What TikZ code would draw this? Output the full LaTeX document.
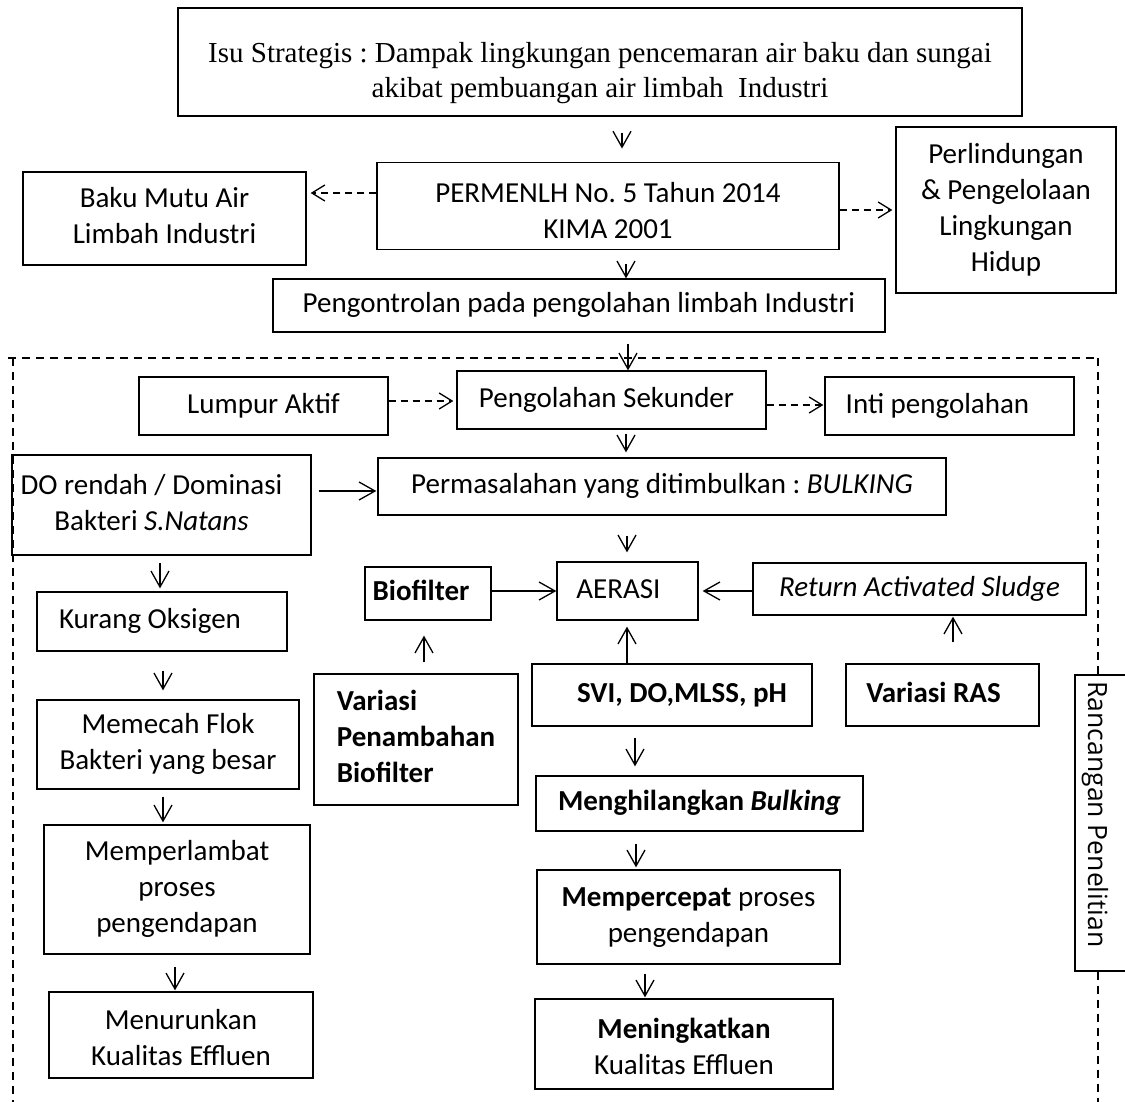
\documentclass[tikz,border=0pt]{standalone}
\usepackage{fontspec}
\setmainfont{Carlito}
\newfontfamily\tnrfont{Liberation Serif}
\newfontfamily\osfont{Open Sans}
\usepackage{graphicx}
\usetikzlibrary{arrows.meta}
\frenchspacing
\newcommand{\hgap}[1]{\rule{#1}{0pt}}
\newcommand{\cfont}{\fontsize{29}{36}\selectfont}
\newcommand{\bnode}[6][]{\node[bx,minimum width={#4-#2},minimum height={#5-#3},#1] (#6) at ({(#2+#4)/2},{(#3+#5)/2})}
\begin{document}
\begin{tikzpicture}[x=1pt,y=-1pt,
  bx/.style={draw, line width=1.3pt, inner sep=0pt, align=center, font=\cfont},
  arr/.style={line width=1.3pt, -{Straight Barb[length=16pt,width=18pt]}},
  darr/.style={line width=1.3pt, dash pattern=on 7pt off 5pt, -{Straight Barb[length=13pt,width=16pt]}},
  frame/.style={line width=1.3pt, dash pattern=on 8pt off 6pt}]
\useasboundingbox (0,0) rectangle (1125,1102);

% boxes
\bnode[font=\tnrfont\fontsize{29}{35}\selectfont]{178}{8}{1022}{116}{top} {\rule{0pt}{47pt}Isu Strategis : Dampak lingkungan pencemaran air baku dan sungai\\\strut akibat pembuangan air limbah\ \ Industri};
\bnode{377}{164}{839}{248}{perm} {\rule{0pt}{40.8pt}PERMENLH No.\ 5 Tahun 2014\\\strut KIMA 2001};
\bnode{23}{172}{306}{265}{baku} {\strut Baku Mutu Air\\\strut Limbah Industri};
\bnode{896}{127}{1116}{293}{perl} {\strut Perlindungan\\\strut \& Pengelolaan\\\strut Lingkungan\\\strut Hidup};
\bnode{273}{279}{885}{332}{kontrol} {\strut Pengontrolan pada pengolahan limbah Industri};

\bnode{139}{377}{388}{435}{lumpur} {\strut Lumpur Aktif};
\bnode{457}{371}{766}{429}{sek} {\strut Pengolahan Sekunder\hgap{10pt}};
\bnode{825}{377}{1074}{435}{inti} {\strut Inti pengolahan\hgap{24pt}};
\bnode{12}{455}{311}{555}{do} {\strut DO rendah / Dominasi\hgap{20pt}\\\strut Bakteri \textit{S.Natans}\hgap{20pt}};
\bnode{378}{458}{946}{515}{masalah} {\strut Permasalahan yang ditimbulkan : \textit{BULKING}};
\bnode{557}{562}{698}{620}{aerasi} {\strut AERASI\hgap{18pt}};
\bnode[font=\cfont\bfseries]{365}{567}{491}{620}{biof} {\strut Biofilter\hgap{14pt}};
\bnode{753}{563}{1086}{615}{ras} {\strut\textit{Return Activated Sludge}};
\bnode{37}{592}{287}{651}{kurang} {\strut Kurang Oksigen\hgap{24pt}};
\bnode[font=\cfont\bfseries,align=left]{314}{674}{518}{805}{varpen} {\strut Variasi\\\strut Penambahan\\\strut Biofilter};
\bnode[font=\cfont\bfseries]{532}{664}{812}{726}{svi} {\strut\hgap{20pt}SVI, DO,MLSS, pH};
\bnode[font=\cfont\bfseries]{846}{664}{1039}{726}{varras} {\strut Variasi RAS\hgap{18pt}};
\bnode{37}{700}{299}{789}{memecah} {\strut Memecah Flok\\\strut Bakteri yang besar};
\bnode{44}{825}{310}{954}{lambat} {\strut Memperlambat\\\strut proses\\\strut pengendapan};
\bnode{49}{992}{313}{1078}{turun} {\rule{0pt}{35pt}Menurunkan\\\strut Kualitas Effluen};
\bnode{536}{776}{863}{831}{hilang} {\strut\textbf{Menghilangkan \textit{Bulking}}};
\bnode{537}{870}{840}{964}{cepat} {\strut\textbf{Mempercepat} proses\\\strut pengendapan};
\bnode{535}{999}{833}{1089}{tingkat} {\rule{0pt}{35pt}\textbf{Meningkatkan}\\\strut Kualitas Effluen};
\bnode{1075}{675}{1130}{971}{ranc} {};
\node[font=\osfont\fontsize{26.5}{32}\selectfont, rotate=-90, anchor=base, inner sep=0pt] (ranct) at (1088,814.5) {Rancangan Penelitian};

% dashed frame
\draw[frame] (8,358) -- (1098,358);
\draw[frame] (13,358) -- (13,1106);
\draw[frame] (1098,358) -- (ranc.north -| 1098,0);
\draw[frame] (ranc.south -| 1098,0) -- (1098,1106);

% arrows
\draw[arr, shorten <=16pt, shorten >=13pt] (top.south -| 622,0) -- (perm.north -| 622,0);
\draw[arr, shorten <=14pt] (perm.south -| 626,0) -- (kontrol.north -| 626,0);
\draw[arr, shorten <=11pt] (kontrol.south -| 628,0) -- (sek.north -| 628,0);
\draw[darr, shorten >=4pt] (perm.west |- 0,193) -- (baku.east |- 0,193);
\draw[darr, shorten >=3pt] (perm.east |- 0,210) -- (perl.west |- 0,210);
\draw[darr, shorten >=3pt] (lumpur.east |- 0,401) -- (sek.west |- 0,401);
\draw[darr, shorten >=1pt] (sek.east |- 0,405) -- (inti.west |- 0,405);
\draw[arr, shorten <=4pt, shorten >=5pt] (sek.south -| 626,0) -- (masalah.north -| 626,0);
\draw[arr, shorten <=7pt, shorten >=1pt] (do.east |- 0,491) -- (masalah.west |- 0,491);
\draw[arr, shorten <=20pt, shorten >=9pt] (masalah.south -| 627,0) -- (aerasi.north -| 627,0);
\draw[arr] (biof.east |- 0,591) -- (aerasi.west |- 0,591);
\draw[arr, shorten >=4pt] (ras.west |- 0,591) -- (aerasi.east |- 0,591);
\draw[arr, shorten <=11pt, shorten >=15pt] (varpen.north -| 424,0) -- (biof.south -| 424,0);
\draw[arr, shorten >=6pt] (svi.north -| 627,0) -- (aerasi.south -| 627,0);
\draw[arr, shorten <=21pt, shorten >=1pt] (varras.north -| 953,0) -- (ras.south -| 953,0);
\draw[arr, shorten <=11pt, shorten >=9pt] (svi.south -| 635,0) -- (hilang.north -| 635,0);
\draw[arr, shorten <=12pt, shorten >=2pt] (hilang.south -| 636,0) -- (cepat.north -| 636,0);
\draw[arr, shorten <=9pt, shorten >=1pt] (cepat.south -| 645,0) -- (tingkat.north -| 645,0);
\draw[arr, shorten <=7pt, shorten >=3pt] (do.south -| 160,0) -- (kurang.north -| 160,0);
\draw[arr, shorten <=19pt, shorten >=9pt] (kurang.south -| 163,0) -- (memecah.north -| 163,0);
\draw[arr, shorten <=7pt, shorten >=2pt] (memecah.south -| 163,0) -- (lambat.north -| 163,0);
\draw[arr, shorten <=12pt, shorten >=1pt] (lambat.south -| 175,0) -- (turun.north -| 175,0);
\end{tikzpicture}
\end{document}
